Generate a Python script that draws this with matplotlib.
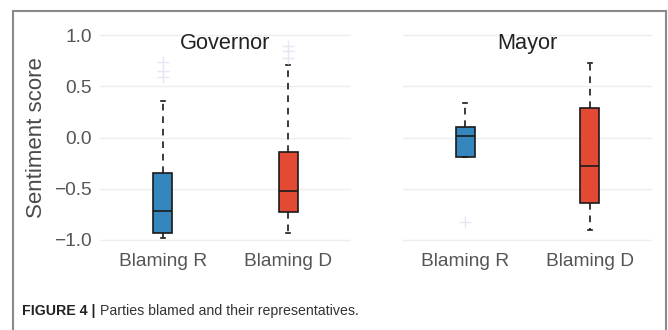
import matplotlib.pyplot as plt
from matplotlib.lines import Line2D

# Box statistics read per panel: [whislo, q1, median, q3, whishi]
groups = ["Blaming R", "Blaming D"]
governor_r = [-0.98, -0.93, -0.72, -0.35, 0.36]
governor_d = [-0.93, -0.725, -0.52, -0.14, 0.71]
mayor_r = [-0.19, -0.19, 0.02, 0.10, 0.335]
mayor_d = [-0.90, -0.64, -0.28, 0.29, 0.73]

governor_r_fliers = [0.59, 0.65, 0.74]
governor_d_fliers = [0.78, 0.85, 0.90]
mayor_r_fliers = [-0.83]
mayor_d_fliers = []

yticks = [-1.0, -0.5, 0.0, 0.5, 1.0]
box_colors = ["#3486bd", "#e34a33"]

plt.rcParams["font.family"] = ["Liberation Sans", "DejaVu Sans"]


def make_stats(values, fliers, label):
    lo, q1, med, q3, hi = values
    return {"whislo": lo, "q1": q1, "med": med, "q3": q3, "whishi": hi,
            "fliers": fliers, "label": label}


def draw_panel(ax, title, data, fliers, show_yticks):
    stats = [make_stats(v, f, g) for v, f, g in zip(data, fliers, groups)]
    bp = ax.bxp(stats, positions=[1, 2], widths=0.15, capwidths=0.035,
                patch_artist=True, showfliers=True,
                boxprops=dict(edgecolor="#1a1a1a", linewidth=1.2),
                medianprops=dict(color="#1a1a1a", linewidth=1.2),
                whiskerprops=dict(color="#1a1a1a", linewidth=1.2,
                                  linestyle=(0, (4, 3.5))),
                capprops=dict(color="#1a1a1a", linewidth=1.2),
                flierprops=dict(marker="+", markersize=8,
                                markeredgecolor="#e6e6f6", linestyle="none"))
    for patch, c in zip(bp["boxes"], box_colors):
        patch.set_facecolor(c)

    ax.set_xlim(0.5, 2.5)
    ax.set_ylim(-1.05, 1.05)
    ax.set_yticks(yticks)
    ax.yaxis.grid(True, color="#eeeeee", linewidth=1.0)
    ax.set_axisbelow(True)
    for s in ax.spines.values():
        s.set_visible(False)
    ax.tick_params(axis="both", length=0, labelsize=13.8, colors="#555555")
    ax.tick_params(axis="x", pad=6)
    ax.tick_params(axis="y", pad=6)
    ax.set_yticklabels([f"{t:.1f}".replace("-", "\u2212") for t in yticks])
    if not show_yticks:
        ax.tick_params(axis="y", labelleft=False)
    ax.text(1.5, 0.92, title, ha="center", va="center", fontsize=15.7,
            color="#222222")


fig = plt.figure(figsize=(6.68, 3.30), dpi=100)
ax1 = fig.add_axes([0.1497, 0.2576, 0.3757, 0.651])
ax2 = fig.add_axes([0.6033, 0.2576, 0.3728, 0.651])

draw_panel(ax1, "Governor", [governor_r, governor_d],
           [governor_r_fliers, governor_d_fliers], True)
draw_panel(ax2, "Mayor", [mayor_r, mayor_d],
           [mayor_r_fliers, mayor_d_fliers], False)

ax1.set_ylabel("Sentiment score", fontsize=16, color="#4a4a4a", labelpad=5)

# outer frame (open at the bottom)
x0, x1, y1 = 13 / 668, 665.5 / 668, 1 - 10.5 / 330
for xs, ys in [([x0, x0], [-0.1, y1]), ([x0, x1], [y1, y1]),
               ([x1, x1], [y1, -0.1])]:
    fig.add_artist(Line2D(xs, ys, color="#8a8a8a", linewidth=1.5,
                          transform=fig.transFigure))

# caption: bold label, then the description placed right after it
cap_y = 1 - 311 / 330
label = fig.text(22 / 668, cap_y, "FIGURE 4 |", fontsize=10.2,
                 fontweight="bold", color="#222222", va="center")
fig.canvas.draw()
bb = label.get_window_extent()
fig.text((bb.x1 + 4) / 668, cap_y, "Parties blamed and their representatives.",
         fontsize=10.2, color="#333333", va="center")

fig.savefig("out.png", dpi=100)
